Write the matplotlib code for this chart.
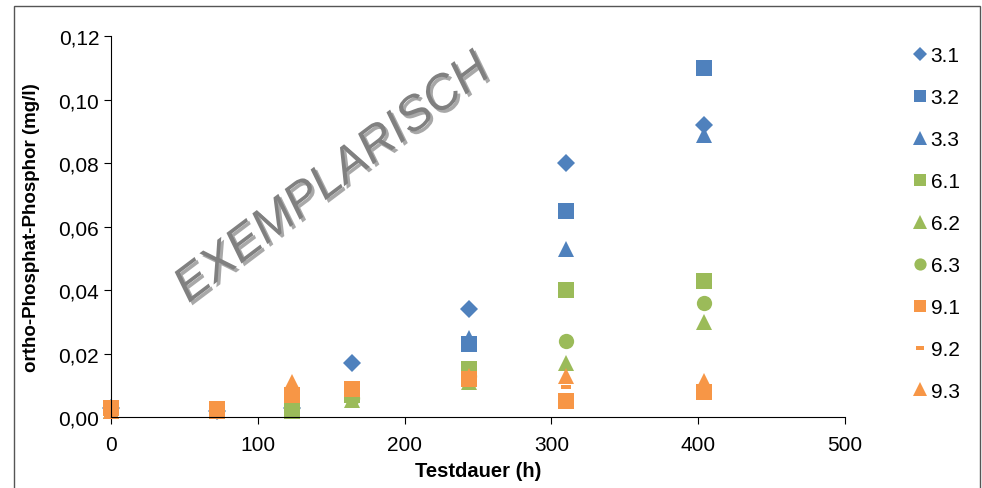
import matplotlib
matplotlib.use("Agg")
import matplotlib.pyplot as plt
import matplotlib.patheffects as pe
from matplotlib.patches import Rectangle

plt.rcParams['font.family'] = ['Liberation Sans', 'DejaVu Sans']

# Testdauer (h) and ortho-Phosphat-Phosphor (mg/l) per sample
hours_3 = [0, 72, 123, 164, 244, 310, 404]
s31 = [0.003, 0.002, 0.003, 0.017, 0.034, 0.080, 0.092]
s32 = [0.003, 0.002, 0.003, 0.009, 0.023, 0.065, 0.110]
s33 = [0.002, 0.002, 0.003, 0.007, 0.025, 0.053, 0.089]

hours_6 = [0, 72, 123, 164, 244, 310, 404]
s61 = [0.003, 0.002, 0.002, 0.007, 0.015, 0.040, 0.043]
s62 = [0.002, 0.002, 0.002, 0.0055, 0.011, 0.017, 0.030]
s63 = [0.003, 0.002, 0.003, 0.006, 0.013, 0.024, 0.036]

hours_9 = [0, 72, 123, 164, 244, 310, 404]
s91 = [0.003, 0.0025, 0.007, 0.009, 0.012, 0.005, 0.008]
s92 = [0.003, 0.0025, 0.006, 0.008, 0.011, 0.0095, 0.009]
s93 = [0.002, 0.002, 0.011, 0.009, 0.013, 0.013, 0.0115]

blue = '#4F81BD'
green = '#9BBB59'
orange = '#F79646'
dash = [(-1, -0.4), (1, -0.4), (1, 0.4), (-1, 0.4), (-1, -0.4)]

series = [
    ('3.1', hours_3, s31, blue, 'D', 9),
    ('3.2', hours_3, s32, blue, 's', 11),
    ('3.3', hours_3, s33, blue, '^', 12),
    ('6.1', hours_6, s61, green, 's', 11),
    ('6.2', hours_6, s62, green, '^', 12),
    ('6.3', hours_6, s63, green, 'o', 11),
    ('9.1', hours_9, s91, orange, 's', 11),
    ('9.2', hours_9, s92, orange, dash, 7),
    ('9.3', hours_9, s93, orange, '^', 12),
]

fig = plt.figure(figsize=(9.82, 4.89), dpi=100)
ax = fig.add_axes([0.113, 0.145, 0.7475, 0.779])

for name, x, y, c, m, ms in series:
    ax.plot(x, y, linestyle='none', marker=m, markersize=ms, color=c,
            markeredgewidth=0, label=name, clip_on=False)

ax.set_xlim(0, 500)
ax.set_ylim(0, 0.12)
ax.set_xticks([0, 100, 200, 300, 400, 500])
ax.set_yticks([0, 0.02, 0.04, 0.06, 0.08, 0.10, 0.12])
ax.set_yticklabels(['0,00', '0,02', '0,04', '0,06', '0,08', '0,10', '0,12'])
ax.spines['top'].set_visible(False)
ax.spines['right'].set_visible(False)
ax.tick_params(labelsize=15, length=5, direction='out')
ax.tick_params(axis='x', pad=8)
ax.set_xlabel('Testdauer (h)', fontsize=14.5, fontweight='bold', labelpad=5)
ax.set_ylabel('ortho-Phosphat-Phosphor (mg/l)', fontsize=13.5, fontweight='bold', labelpad=13)

fig.legend(loc='upper left', bbox_to_anchor=(0.918, 0.92), frameon=False,
           fontsize=15, labelspacing=1.1, handletextpad=0.0, handlelength=1.0,
           borderaxespad=0, markerscale=0.8)

fig.text(0.339, 0.632, 'EXEMPLARISCH', fontsize=35, style='italic', color='#808080',
         rotation=37, ha='center', va='center',
         path_effects=[pe.SimplePatchShadow(offset=(2, -2), alpha=0.4), pe.Normal()])

fig.patches.append(Rectangle((14 / 982, -0.1), (980 - 14) / 982, 1.1 - 7 / 489,
                             transform=fig.transFigure, fill=False,
                             edgecolor='#555555', linewidth=1))

fig.savefig('out.png', dpi=100)
print("Saved plot")
